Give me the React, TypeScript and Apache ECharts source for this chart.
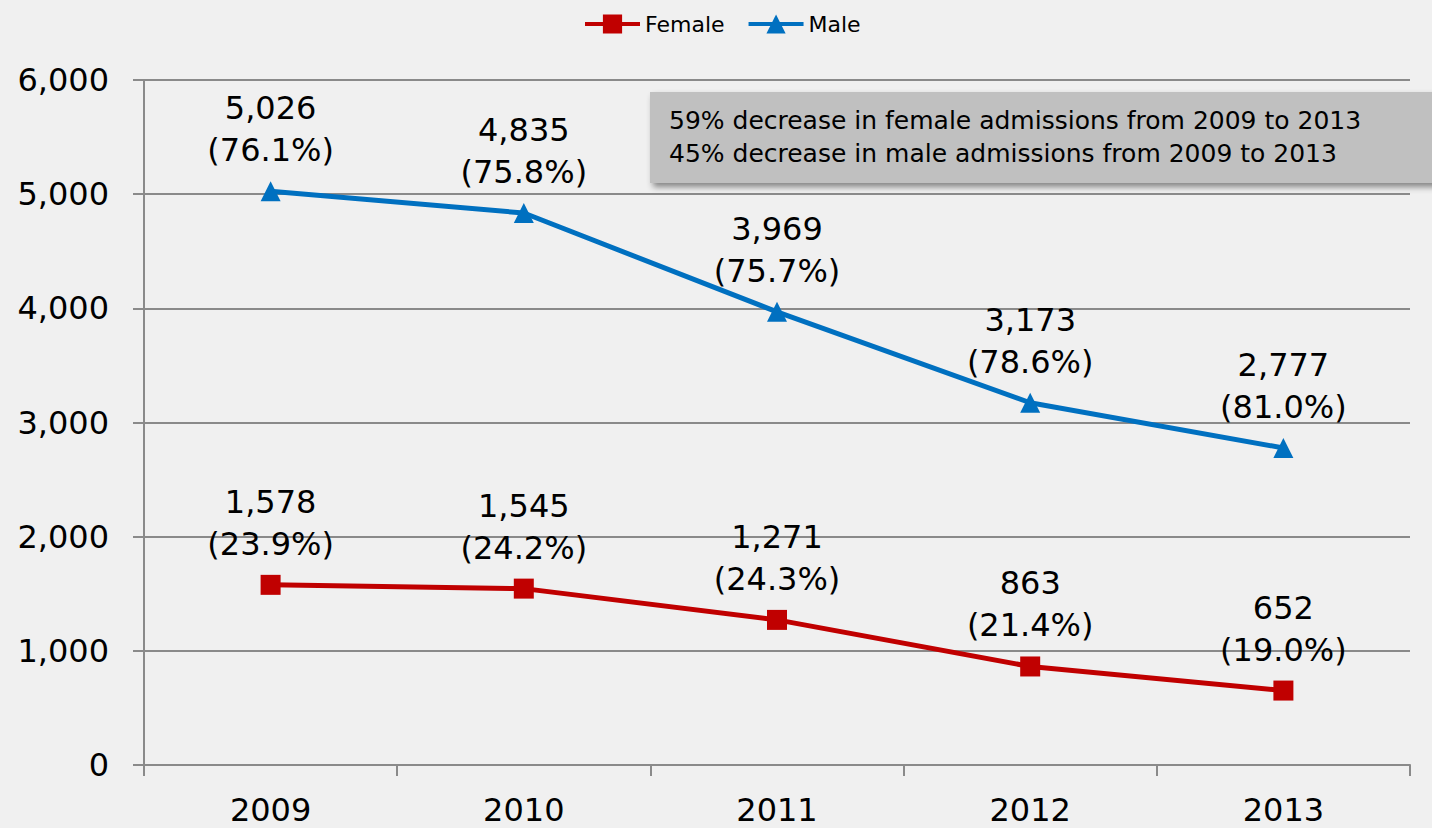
import React, { useEffect, useRef } from "react";
import * as echarts from "echarts";

const years = ["2009", "2010", "2011", "2012", "2013"];
const femaleCounts = [1578, 1545, 1271, 863, 652];
const femalePct = ["23.9%", "24.2%", "24.3%", "21.4%", "19.0%"];
const maleCounts = [5026, 4835, 3969, 3173, 2777];
const malePct = ["76.1%", "75.8%", "75.7%", "78.6%", "81.0%"];
const noteLines = [
  "59% decrease in female admissions from 2009 to 2013",
  "45% decrease in male admissions from 2009 to 2013",
];

const FONT = "DejaVu Sans";
const fmt = (v: number) => v.toLocaleString("en-US");

export default function App() {
  const ref = useRef<HTMLDivElement>(null);
  useEffect(() => {
    if (!ref.current) return;
    const chart = echarts.init(ref.current, null, { renderer: "svg" });
    const labelStyle = (pcts: string[]) => ({
      show: true,
      position: "top",
      distance: 10,
      fontFamily: FONT,
      fontSize: 32,
      lineHeight: 42,
      color: "#000",
      align: "center",
      formatter: (p: any) => `${fmt(p.value)}\n(${pcts[p.dataIndex]})`,
    });
    chart.setOption({
      animation: false,
      backgroundColor: "#f0f0f0",
      textStyle: { fontFamily: FONT },
      legend: {
        left: 578,
        top: 8,
        itemWidth: 55,
        itemHeight: 24,
        itemGap: 22,
        lineStyle: { width: 4 },
        textStyle: { fontFamily: FONT, fontSize: 22, color: "#000" },
        data: ["Female", "Male"],
      },
      grid: {
        left: 144,
        right: 22,
        top: 80,
        bottom: 63,
        containLabel: false,
        outerBoundsMode: "none",
      },
      xAxis: {
        type: "category",
        data: years,
        boundaryGap: true,
        axisLine: { show: true, lineStyle: { color: "#8a8a8a", width: 2 } },
        axisTick: { show: true, length: 11, lineStyle: { color: "#8a8a8a", width: 2 } },
        axisLabel: { fontFamily: FONT, fontSize: 32, color: "#000", margin: 29 },
        splitLine: { show: false },
      },
      yAxis: {
        type: "value",
        min: 0,
        max: 6000,
        interval: 1000,
        axisLine: { show: true, lineStyle: { color: "#8a8a8a", width: 2 } },
        axisTick: { show: true, length: 11, lineStyle: { color: "#8a8a8a", width: 2 } },
        axisLabel: {
          fontFamily: FONT,
          fontSize: 32,
          color: "#000",
          margin: 35,
          formatter: (v: number) => fmt(v),
        },
        splitLine: { show: true, lineStyle: { color: "#8a8a8a", width: 2 } },
      },
      series: [
        {
          name: "Female",
          type: "line",
          data: femaleCounts,
          symbol: "rect",
          symbolSize: 20,
          lineStyle: { color: "#c00000", width: 5 },
          itemStyle: { color: "#c00000" },
          label: labelStyle(femalePct),
        },
        {
          name: "Male",
          type: "line",
          data: maleCounts,
          symbol: "triangle",
          symbolSize: 20,
          lineStyle: { color: "#0070c0", width: 5 },
          itemStyle: { color: "#0070c0" },
          label: labelStyle(malePct),
        },
      ],
      graphic: [
        {
          type: "rect",
          left: 650,
          top: 92,
          shape: { width: 800, height: 91 },
          style: {
            fill: "#c0c0c0",
            shadowBlur: 6,
            shadowOffsetX: 3,
            shadowOffsetY: 4,
            shadowColor: "rgba(0,0,0,0.45)",
          },
          z: 100,
        },
        {
          type: "text",
          left: 669,
          top: 104,
          style: {
            text: noteLines.join("\n"),
            fontFamily: FONT,
            fontSize: 25,
            lineHeight: 33,
            fill: "#000",
          },
          z: 101,
        },
      ],
    });
    return () => chart.dispose();
  }, []);
  return (
    <div
      ref={ref}
      style={{ position: "absolute", left: 0, top: 0, width: 1432, height: 828 }}
    />
  );
}
